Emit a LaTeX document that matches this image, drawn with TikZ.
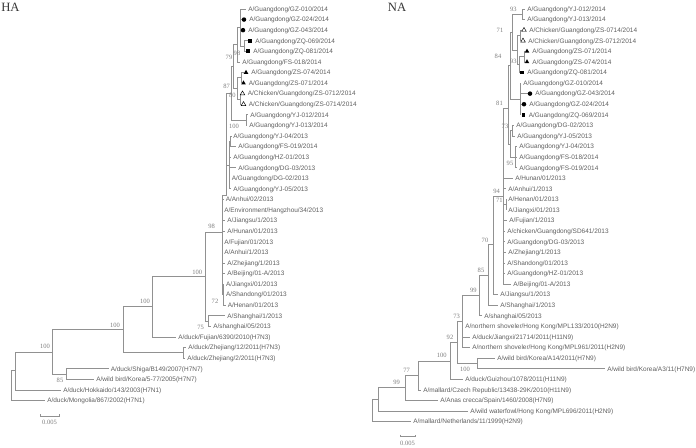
\documentclass[tikz,border=0pt]{standalone}
\usepackage{fontspec}
\setmainfont{Liberation Serif}
\newfontfamily\taxonfamily{Liberation Sans}
\usetikzlibrary{shapes.geometric}
\definecolor{branchgray}{RGB}{145,145,145}
\definecolor{taxongray}{RGB}{95,95,95}
\definecolor{bootgray}{RGB}{125,125,125}
\definecolor{titlegray}{RGB}{55,55,55}
\newcommand\taxonfont{\taxonfamily\fontsize{4.85}{5}\selectfont}
\newcommand\bootfont{\fontsize{4.9}{5}\selectfont}
\begin{document}
\begin{tikzpicture}[x=0.75pt, y=-0.75pt, declare function={ry(\k)=9+(\k-1)*10.58;}]
    % Define style for branches, labels and markers
    \tikzstyle{branch} = [draw=branchgray, line width=0.55pt]
    \tikzstyle{taxon} = [anchor=base west, inner sep=0pt, font=\taxonfont, text=taxongray]
    \tikzstyle{boot} = [inner sep=0pt, font=\bootfont, text=bootgray]
    \tikzstyle{title} = [inner sep=0pt, font=\fontsize{9.5}{10}\selectfont, text=titlegray]
    \tikzstyle{mkdot} = [circle, fill=black, inner sep=0pt, minimum size=3.4pt]
    \tikzstyle{mksq} = [rectangle, fill=black, inner sep=0pt, minimum size=2.9pt]
    \tikzstyle{mktri} = [regular polygon, regular polygon sides=3, fill=black, inner sep=0pt, minimum size=4pt]
    \tikzstyle{mkotri} = [regular polygon, regular polygon sides=3, draw=black, line width=0.35pt, inner sep=0pt, minimum size=4pt]

    \useasboundingbox (0,0) rectangle (696,447);

    \node[title] (hatitle) at (10.5,7) {HA};
    \node[title] (natitle) at (397,7) {NA};

    % HA: inner nodes
    \coordinate (zq) at (244,{ry(4.5)});
    \coordinate (g1) at (240,{ry(2.75)});
    \coordinate (g2) at (237,{ry(4.375)});
    \coordinate (zsa) at (241,{ry(7.5)});
    \coordinate (zsb) at (240,{ry(9.5)});
    \coordinate (g4) at (237,{ry(8.5)});
    \coordinate (g5) at (233,{ry(6.4375)});
    \coordinate (yj) at (246,{ry(11.5)});
    \coordinate (g6) at (231,{ry(8.97)});
    \coordinate (yf) at (230.5,{ry(13.5)});
    \coordinate (g8) at (229.5,{ry(15.75)});
    \coordinate (g7) at (226.5,{ry(18.6)});
    \coordinate (big) at (222,{ry(22.08)});
    \coordinate (h72) at (223.8,{ry(28)});
    \coordinate (h208) at (208,{ry(30.5)});
    \coordinate (h205) at (205,{ry(26.29)});
    \coordinate (h183) at (183,{ry(33.5)});
    \coordinate (h152) at (152,{ry(29.15)});
    \coordinate (h123) at (123,{ry(31.32)});
    \coordinate (h66) at (66,{ry(35.5)});
    \coordinate (h52) at (52,{ry(33.41)});
    \coordinate (h15) at (15,{ry(35.2)});
    \coordinate (hroot) at (11,{ry(36.6)});

    \foreach \a/\b in {g1/zq,g2/g1,g4/zsa,g4/zsb,g5/g2,g5/g4,g6/g5,g6/yj,g8/yf,g7/g6,g7/g8,
        big/g7,big/h72,h205/big,h205/h208,h152/h205,h123/h152,h123/h183,h52/h123,h52/h66,
        h15/h52,hroot/h15}
        \draw[branch] (\a) |- (\b);

    % HA: leaves
    \foreach \i/\p/\xe/\xl/\txt in {
        1/g1/246/248/{A/Guangdong/GZ-010/2014},
        2/g1/241.5/249/{A/Guangdong/GZ-024/2014},
        3/g1/240.5/248/{A/Guangdong/GZ-043/2014},
        4/zq/247.5/255/{A/Guangdong/ZQ-069/2014},
        5/zq/245.5/253/{A/Guangdong/ZQ-081/2014},
        6/g2/240/242/{A/Guangdong/FS-018/2014},
        7/zsa/243.5/251/{A/Guangdong/ZS-074/2014},
        8/zsa/241/248.5/{A/Guangdong/ZS-071/2014},
        9/zsb/240/247.5/{A/Chicken/Guangdong/ZS-0712/2014},
        10/zsb/241/248.5/{A/Chicken/Guangdong/ZS-0714/2014},
        11/yj/248/250/{A/Guangdong/YJ-012/2014},
        12/yj/247/249/{A/Guangdong/YJ-013/2014},
        13/yf/231/233/{A/Guangdong/YJ-04/2013},
        14/yf/236/238/{A/Guangdong/FS-019/2014},
        15/g8/231/233/{A/Guangdong/HZ-01/2013},
        16/g8/236/238/{A/Guangdong/DG-03/2013},
        17/g8/229.5/231.5/{A/Guangdong/DG-02/2013},
        18/g8/231/233/{A/Guangdong/YJ-05/2013},
        19/big/223.5/225.5/{A/Anhui/02/2013},
        20/big/222/224/{A/Environment/Hangzhou/34/2013},
        21/big/225/227/{A/Jiangsu/1/2013},
        22/big/225/227/{A/Hunan/01/2013},
        23/big/222/224/{A/Fujian/01/2013},
        24/big/222/224/{A/Anhui/1/2013},
        25/big/225/227/{A/Zhejiang/1/2013},
        26/big/225/227/{A/Beijing/01-A/2013},
        27/h72/223.8/225.8/{A/Jiangxi/01/2013},
        28/h72/223.8/225.8/{A/Shandong/01/2013},
        29/h72/225.5/227.5/{A/Henan/01/2013},
        30/h208/225/227/{A/Shanghai/1/2013},
        31/h208/211/213/{A/shanghai/05/2013},
        32/h152/176/178/{A/duck/Fujian/6390/2010(H7N3)},
        33/h183/186/188/{A/duck/Zhejiang/12/2011(H7N3)},
        34/h183/185/187/{A/duck/Zhejiang/2/2011(H7N3)},
        35/h66/108.5/110.5/{A/duck/Shiga/B149/2007(H7N7)},
        36/h66/94/96/{A/wild bird/Korea/5-77/2005(H7N7)},
        37/h15/61/63/{A/duck/Hokkaido/143/2003(H7N1)},
        38/hroot/45/47/{A/duck/Mongolia/867/2002(H7N1)}} {
        \coordinate (ha\i) at (\xe,{ry(\i)});
        \draw[branch] (\p) |- (ha\i);
        \node[taxon] (hat\i) at (\xl,{ry(\i)+2.3}) {\txt};
      }

    \foreach \i/\xm/\mk in {2/244/mkdot,3/243/mkdot,4/250/mksq,5/248/mksq,
        7/246/mktri,8/243.5/mktri,9/242.5/mkotri,10/243.5/mkotri}
        \node[\mk] (ham\i) at (\xm,{ry(\i)}) {};

    \foreach \x/\y/\v [count=\k] in {237/53/98,229/57.3/79,226.7/86/87,232.3/95/80,234/126.7/100,
        211.7/226.7/98,197.3/272.3/100,215/301/72,200.7/327.7/75,145/301.7/100,115/325/100,
        45/346.7/100,60/380.7/85}
        \node[boot] (hab\k) at (\x,\y) {\v};

    % NA: inner nodes
    \coordinate (a1) at (522,{ry(1.5)});
    \coordinate (a2) at (520,{ry(3.5)});
    \coordinate (a3) at (524,{ry(5.5)});
    \coordinate (a4) at (519,{ry(6.25)});
    \coordinate (a5) at (517,{ry(4.875)});
    \coordinate (b0) at (512,{ry(3.19)});
    \coordinate (gn) at (520,{ry(9.5)});
    \coordinate (b2) at (510.5,{ry(6.34)});
    \coordinate (d1) at (512,{ry(12.5)});
    \coordinate (d2) at (515,{ry(15)});
    \coordinate (c2) at (510,{ry(13.75)});
    \coordinate (b3) at (508.5,{ry(10.4)});
    \coordinate (hj) at (506,{ry(19.5)});
    \coordinate (p94) at (503,{ry(18.7)});
    \coordinate (n493) at (493,{ry(23.26)});
    \coordinate (n488) at (488,{ry(26.13)});
    \coordinate (n479) at (479,{ry(28.07)});
    \coordinate (n462) at (462,{ry(30.53)});
    \coordinate (k477) at (477,{ry(34.5)});
    \coordinate (n457) at (457,{ry(32.52)});
    \coordinate (n450) at (450,{ry(34.26)});
    \coordinate (n418) at (418,{ry(35.63)});
    \coordinate (n405) at (405,{ry(36.8)});
    \coordinate (n378) at (378,{ry(37.9)});
    \coordinate (nroot) at (372,{ry(38.95)});

    \foreach \a/\b in {a4/a3,a5/a2,a5/a4,b0/a1,b0/a5,b2/b0,b2/gn,c2/d1,c2/d2,b3/b2,b3/c2,
        p94/b3,p94/hj,n493/p94,n488/n493,n479/n488,n462/n479,n457/n462,n457/k477,
        n450/n457,n418/n450,n405/n418,n378/n405,nroot/n378}
        \draw[branch] (\a) |- (\b);

    % NA: leaves
    \foreach \i/\p/\xe/\xl/\txt in {
        1/a1/525/527/{A/Guangdong/YJ-012/2014},
        2/a1/525/527/{A/Guangdong/YJ-013/2014},
        3/a2/521.5/529/{A/Chicken/Guangdong/ZS-0714/2014},
        4/a2/520.5/528/{A/Chicken/Guangdong/ZS-0712/2014},
        5/a3/524.5/532/{A/Guangdong/ZS-071/2014},
        6/a3/524.5/532/{A/Guangdong/ZS-074/2014},
        7/a4/519.5/527/{A/Guangdong/ZQ-081/2014},
        8/gn/521/523/{A/Guangdong/GZ-010/2014},
        9/gn/527.5/535/{A/Guangdong/GZ-043/2014},
        10/gn/521.5/529/{A/Guangdong/GZ-024/2014},
        11/gn/521/528.5/{A/Guangdong/ZQ-069/2014},
        12/d1/514/516/{A/Guangdong/DG-02/2013},
        13/d1/515/517/{A/Guangdong/YJ-05/2013},
        14/d2/517/519/{A/Guangdong/YJ-04/2013},
        15/d2/517/519/{A/Guangdong/FS-018/2014},
        16/d2/517/519/{A/Guangdong/FS-019/2014},
        17/p94/513/515/{A/Hunan/01/2013},
        18/p94/506/508/{A/Anhui/1/2013},
        19/hj/506/508/{A/Henan/01/2013},
        20/hj/506/508/{A/Jiangxi/01/2013},
        21/p94/507/509/{A/Fujian/1/2013},
        22/p94/505/507/{A/chicken/Guangdong/SD641/2013},
        23/p94/505/507/{A/Guangdong/DG-03/2013},
        24/p94/506/508/{A/Zhejiang/1/2013},
        25/p94/505/507/{A/Shandong/01/2013},
        26/p94/505/507/{A/Guangdong/HZ-01/2013},
        27/p94/511/513/{A/Beijing/01-A/2013},
        28/n493/498/500/{A/Jiangsu/1/2013},
        29/n488/498/500/{A/Shanghai/1/2013},
        30/n479/482/484/{A/shanghai/05/2013},
        31/n462/463/465/{A/northern shoveler/Hong Kong/MPL133/2010(H2N9)},
        32/n462/470/472/{A/duck/Jiangxi/21714/2011(H11N9)},
        33/n462/470/472/{A/northern shoveler/Hong Kong/MPL961/2011(H2N9)},
        34/k477/495/497/{A/wild bird/Korea/A14/2011(H7N9)},
        35/k477/605/607/{A/wild bird/Korea/A3/11(H7N9)},
        36/n450/463/465/{A/duck/Guizhou/1078/2011(H11N9)},
        37/n418/421/423/{A/mallard/Czech Republic/13438-29K/2010(H11N9)},
        38/n405/438/440/{A/Anas crecca/Spain/1460/2008(H7N9)},
        39/n378/468/470/{A/wild waterfowl/Hong Kong/MPL696/2011(H2N9)},
        40/nroot/411/413/{A/mallard/Netherlands/11/1999(H2N9)}} {
        \coordinate (na\i) at (\xe,{ry(\i)});
        \draw[branch] (\p) |- (na\i);
        \node[taxon] (nat\i) at (\xl,{ry(\i)+2.3}) {\txt};
      }

    \foreach \i/\xm/\mk in {3/524/mkotri,4/523/mkotri,5/527/mktri,6/527/mktri,7/522/mksq,
        9/530/mkdot,10/524/mkdot,11/523.5/mksq}
        \node[\mk] (nam\i) at (\xm,{ry(\i)}) {};

    \foreach \x/\y/\v [count=\k] in {513.3/9.3/93,500/30.7/71,498/56/84,513.3/61.7/93,499.5/103/81,
        505/126/73,510/163.3/95,496.7/191/94,499.3/200/71,485/240.7/70,481/270.7/85,
        473.3/290.7/99,456.7/316/73,450/337.3/92,441.7/355.7/100,465/369/100,406.7/370/77,
        396.7/382.3/99}
        \node[boot] (nab\k) at (\x,\y) {\v};

    % Scale bars
    \coordinate (hasbl) at (40,416);
    \coordinate (hasbr) at (59,416);
    \draw[branch, line width=0.4pt] ([yshift=1.5]hasbl) -- (hasbl) -- (hasbr) -- ([yshift=1.5]hasbr);
    \node[boot] (hasbt) at (49.5,422.7) {0.005};
    \coordinate (nasbl) at (400,436.7);
    \coordinate (nasbr) at (415,436.7);
    \draw[branch, line width=0.4pt] ([yshift=1.5]nasbl) -- (nasbl) -- (nasbr) -- ([yshift=1.5]nasbr);
    \node[boot] (nasbt) at (407.5,443.3) {0.005};
  \end{tikzpicture}
\end{document}
